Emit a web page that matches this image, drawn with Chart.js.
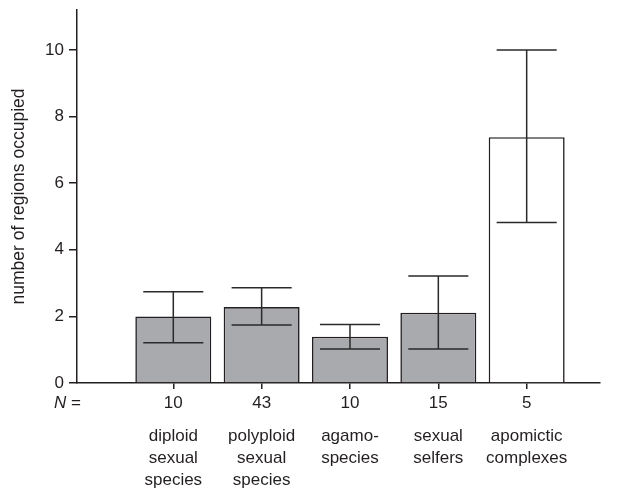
<!DOCTYPE html>
<html>
<head>
<meta charset="utf-8">
<script src="https://cdn.jsdelivr.net/npm/chart.js@4/dist/chart.umd.min.js"></script>
<style>
  html, body { margin: 0; padding: 0; background: #fff; }
  #wrap { width: 619px; height: 489px; }
</style>
</head>
<body>
<div id="wrap"><canvas id="c" width="619" height="489"></canvas></div>
<script>
const categories = [
  ["diploid", "sexual", "species"],
  ["polyploid", "sexual", "species"],
  ["agamo-", "species"],
  ["sexual", "selfers"],
  ["apomictic", "complexes"]
];
const nValues = [10, 43, 10, 15, 5];
const means = [2.0, 2.28, 1.39, 2.11, 7.38];
const lower = [1.21, 1.74, 1.02, 1.02, 4.82];
const upper = [2.74, 2.86, 1.76, 3.21, 10.0];
const yTicks = [0, 2, 4, 6, 8, 10];

const FONT = "'Liberation Sans', Arial, Helvetica, sans-serif";
const INK = '#231f20';
const fills = ['#a8aaad', '#a8aaad', '#a8aaad', '#a8aaad', '#ffffff'];

const positions = categories.map((_, i) => i + 1);

const errorBars = {
  id: 'errorBars',
  afterDatasetsDraw(chart) {
    const { ctx, scales: { x, y } } = chart;
    const half = (x.getPixelForValue(2) - x.getPixelForValue(1)) * 0.34;
    ctx.save();
    ctx.strokeStyle = '#2a2a2a';
    ctx.lineWidth = 1.5;
    positions.forEach((p, i) => {
      const px = x.getPixelForValue(p);
      const lo = y.getPixelForValue(lower[i]);
      const hi = y.getPixelForValue(upper[i]);
      ctx.beginPath();
      ctx.moveTo(px, lo); ctx.lineTo(px, hi);
      ctx.moveTo(px - half, lo); ctx.lineTo(px + half, lo);
      ctx.moveTo(px - half, hi); ctx.lineTo(px + half, hi);
      ctx.stroke();
    });
    ctx.restore();
  }
};

const nLabel = {
  id: 'nLabel',
  afterDraw(chart) {
    const { ctx, chartArea, scales } = chart;
    const yy = scales.x.top + 20;
    const xr = chartArea.left + 4;
    ctx.save();
    ctx.fillStyle = INK;
    ctx.textBaseline = 'middle';
    ctx.font = '17px ' + FONT;
    ctx.textAlign = 'right';
    ctx.fillText(' =', xr, yy);
    const w = ctx.measureText(' =').width;
    ctx.font = 'italic 17px ' + FONT;
    ctx.fillText('N', xr - w, yy);
    ctx.restore();
  }
};

new Chart(document.getElementById('c'), {
  type: 'bar',
  data: {
    datasets: [{
      data: positions.map((p, i) => ({ x: p, y: means[i] })),
      backgroundColor: fills,
      borderColor: INK,
      borderWidth: 1.6,
      barPercentage: 0.86,
      categoryPercentage: 1.0
    }]
  },
  options: {
    responsive: false,
    animation: false,
    devicePixelRatio: 1,
    layout: { padding: { top: 10, right: 19, left: 0, bottom: 0 } },
    plugins: { legend: { display: false }, tooltip: { enabled: false } },
    scales: {
      x: {
        type: 'linear',
        position: 'bottom',
        offset: false,
        min: -0.09,
        max: 5.83,
        afterBuildTicks(s) { s.ticks = positions.map(v => ({ value: v })); },
        afterFit(s) { s.height = 30; s.paddingLeft = 0; s.paddingRight = 0; },
        grid: { offset: false, drawOnChartArea: false, drawTicks: true, tickLength: 6, color: INK, lineWidth: 1.5 },
        border: { display: true, color: INK, width: 1.5 },
        ticks: {
          color: INK,
          font: { family: FONT, size: 17 },
          padding: 4,
          maxRotation: 0,
          autoSkip: false,
          callback(v) { return String(nValues[v - 1]); }
        }
      },
      xName: {
        type: 'linear',
        position: 'bottom',
        offset: false,
        min: -0.09,
        max: 5.83,
        afterBuildTicks(s) { s.ticks = positions.map(v => ({ value: v })); },
        afterFit(s) { s.height = 76; s.paddingLeft = 0; s.paddingRight = 0; },
        grid: { display: false, drawTicks: false, offset: false },
        border: { display: false },
        ticks: {
          color: INK,
          font: { family: FONT, size: 17, lineHeight: 1.3 },
          padding: 12,
          maxRotation: 0,
          autoSkip: false,
          callback(v) { return categories[v - 1]; }
        }
      },
      y: {
        min: 0,
        max: 11.2,
        afterBuildTicks(s) { s.ticks = yTicks.map(v => ({ value: v })); },
        afterFit(s) { s.width = 77; s.paddingTop = 0; s.paddingBottom = 0; },
        grid: { drawOnChartArea: false, drawTicks: true, tickLength: 8, color: INK, lineWidth: 1.5 },
        border: { display: true, color: INK, width: 1.5 },
        ticks: {
          color: INK,
          font: { family: FONT, size: 17 },
          padding: 5
        },
        title: {
          display: true,
          text: 'number of regions occupied',
          color: INK,
          font: { family: FONT, size: 17.5 },
          padding: { top: 9, bottom: 0 }
        }
      }
    }
  },
  plugins: [errorBars, nLabel]
});
</script>
</body>
</html>
